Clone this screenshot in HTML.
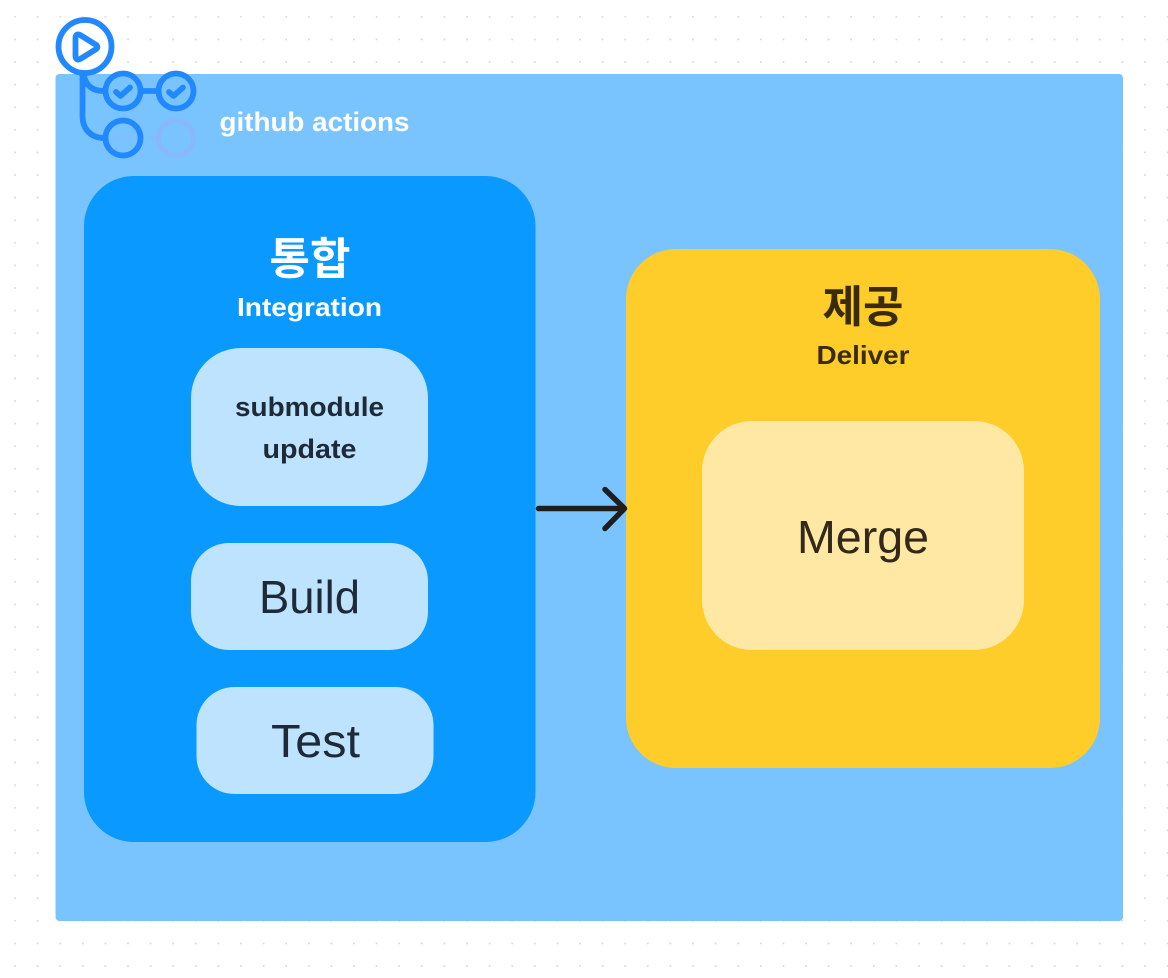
<!DOCTYPE html>
<html lang="ko">
<head>
<meta charset="utf-8">
<title>github actions</title>
<style>
html,body{margin:0;padding:0;background:#fff;width:1168px;height:978px;overflow:hidden}
svg{display:block}
text{font-family:"Liberation Sans","Noto Sans CJK KR",sans-serif;text-anchor:middle}
</style>
</head>
<body>
<svg width="1168" height="978" viewBox="0 0 1168 978" xmlns="http://www.w3.org/2000/svg">
<defs>
<pattern id="dots" x="3.7" y="5.5" width="22.6" height="22.6" patternUnits="userSpaceOnUse">
<circle cx="11.3" cy="11.3" r="1" fill="#d9d9d9"/>
</pattern>
</defs>
<rect width="1168" height="978" fill="#fff"/>
<rect width="1168" height="978" fill="url(#dots)"/>
<rect x="55.500" y="74" width="1067.500" height="847" rx="4" fill="#79c4ff"/>

<!-- Integration -->
<rect x="84" y="176" width="451.500" height="666" rx="50" fill="#0a99ff"/>
<text x="310" y="274" font-size="44" font-weight="700" fill="#fff">통합</text>
<text x="309.500" y="316" font-size="26" font-weight="700" fill="#fff" textLength="145" lengthAdjust="spacingAndGlyphs">Integration</text>

<rect x="191" y="348" width="237" height="158" rx="50" fill="#bde3ff"/>
<text x="309.500" y="416" font-size="27" font-weight="700" fill="#1e2a38" textLength="149" lengthAdjust="spacingAndGlyphs">submodule</text>
<text x="309.500" y="458" font-size="27" font-weight="700" fill="#1e2a38" textLength="94" lengthAdjust="spacingAndGlyphs">update</text>

<rect x="191" y="543" width="237" height="107" rx="38" fill="#bde3ff"/>
<text x="309.500" y="613" font-size="46" fill="#1e2a38" textLength="101" lengthAdjust="spacingAndGlyphs">Build</text>

<rect x="196.500" y="687" width="237" height="107" rx="38" fill="#bde3ff"/>
<text x="315.500" y="757" font-size="46" fill="#1e2a38" textLength="89" lengthAdjust="spacingAndGlyphs">Test</text>

<!-- Deliver -->
<rect x="626" y="249" width="474" height="519" rx="50" fill="#ffcd29"/>
<text x="863" y="322" font-size="44" font-weight="700" fill="#3a2c08">제공</text>
<text x="863" y="364" font-size="26" font-weight="700" fill="#3a2c08" textLength="93" lengthAdjust="spacingAndGlyphs">Deliver</text>
<rect x="702" y="421" width="322" height="229" rx="50" fill="#ffe8a3"/>
<text x="863" y="553" font-size="46" fill="#33291a" textLength="132" lengthAdjust="spacingAndGlyphs">Merge</text>

<!-- Arrow -->
<g fill="none" stroke="#1e1e1e" stroke-width="5.500" stroke-linecap="round" stroke-linejoin="round">
<path d="M538.500 508.500H624"/>
<path d="M605 489.500L624.500 508.500L605 528.500"/>
</g>

<!-- Logo -->
<text x="314.500" y="131" font-size="27" font-weight="700" fill="#fff" textLength="190" lengthAdjust="spacingAndGlyphs">github actions</text>
<g fill="none" stroke-linecap="round" stroke-linejoin="round">
<circle cx="176" cy="138" r="17.500" stroke="#8fb4fb" stroke-width="5.500" opacity=".6"/>
<path d="M151 138H155" stroke="#8fb4fb" stroke-width="4" opacity=".5"/>
<circle cx="117" cy="138" r="2.500" fill="#8fb4fb" opacity=".35"/>
<circle cx="129" cy="138" r="2.500" fill="#8fb4fb" opacity=".35"/>
<g stroke="#2188ff" stroke-width="5.800">
<path d="M82.500 72V116C82.500 130 92 138 104 138"/>
<path d="M84 76C86 86 93 91 104 91"/>
<circle cx="85" cy="46.500" r="26.500" fill="#fff"/>
<path d="M75.500 38C75.500 34.500 78 33.500 81 35.500L95.500 44.500C98 46 98 48 95.500 49.500L81 58.500C78 60.500 75.500 59.500 75.500 56Z"/>
<circle cx="123" cy="91" r="17.500"/>
<circle cx="176" cy="91" r="17.500"/>
<circle cx="123" cy="138" r="17.500"/>
<path d="M141 91H158"/>
<path d="M116 92L120.500 96L130 87.500"/>
<path d="M169 92L173.500 96L183 87.500"/>
</g>
</g>
</svg>
</body>
</html>
